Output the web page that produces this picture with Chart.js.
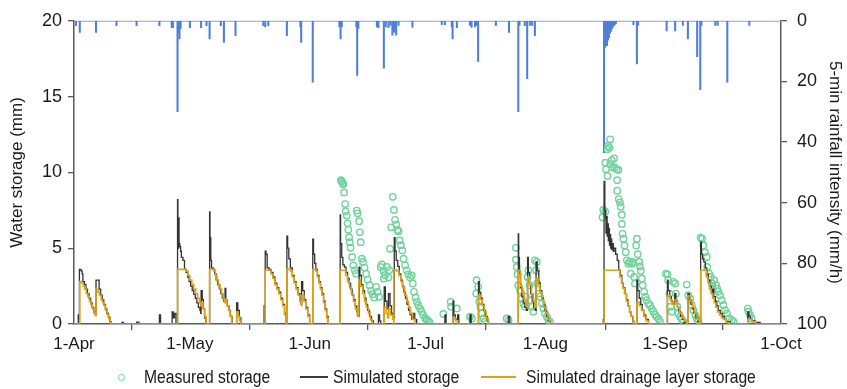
<!DOCTYPE html>
<html>
<head>
<meta charset="utf-8">
<script src="https://cdn.jsdelivr.net/npm/chart.js@4.4.1/dist/chart.umd.min.js"></script>
<style>
  html, body { margin: 0; padding: 0; background: #fff; }
  #wrap { position: relative; width: 847px; height: 389px; }
  #legend { position: absolute; left: 0; top: 366px; width: 847px; height: 22px;
            font: 18px 'Liberation Sans', Arial, sans-serif; color: #1a1a1a; }
  .item { position: absolute; top: 0; line-height: 22px; white-space: nowrap;
          transform: scaleX(0.87); transform-origin: 0 50%; }
  .dot { position: absolute; top: 8px; width: 5px; height: 5px; border: 1.3px solid #6fd39b; border-radius: 50%; }
  .ln { position: absolute; top: 10px; height: 2px; }
</style>
</head>
<body>
<div id="wrap">
  <canvas id="chart" width="847" height="389"></canvas>
  <div id="legend">
    <span class="dot" style="left:118px"></span>
    <span class="item" style="left:144px">Measured storage</span>
    <span class="ln" style="left:300px;width:28px;background:#3b3b3b;height:1.5px"></span>
    <span class="item" style="left:333px">Simulated storage</span>
    <span class="ln" style="left:481px;width:35px;background:#d9a31c"></span>
    <span class="item" style="left:526px">Simulated drainage layer storage</span>
  </div>
</div>
<script>
// x axis = days since 1 April
const monthDays = [0, 30, 61, 91, 122, 153, 183];
const monthLabels = ['1-Apr', '1-May', '1-Jun', '1-Jul', '1-Aug', '1-Sep', '1-Oct'];
const storageTicks = [0, 5, 10, 15, 20];
const rainTicks = [0, 20, 40, 60, 80, 100];

// 5-min rainfall intensity (mm/h)
const rainDay = [0.5, 1.5, 5.7, 11.0, 16.2, 22.1, 25.3, 25.6, 26.8, 27.0, 27.3, 27.6, 30.0, 32.9, 34.3, 35.1, 38.0, 38.8, 41.8,
  49.0, 49.5, 50.3, 55.1, 58.6, 58.8, 61.8, 68.7, 69.0, 69.3, 73.1, 73.3, 73.6, 78.4, 78.8, 80.2, 80.7, 81.4, 81.9, 82.4, 82.6,
  82.9, 83.1, 83.4, 84.0, 87.6, 95.2, 96.0, 97.8, 98.0, 99.1, 102.5, 102.9, 103.8, 104.2, 104.6, 109.2, 112.6, 115.0, 115.3,
  116.7, 117.3, 118.0, 118.6, 119.3, 137.2, 137.45, 137.7, 137.95, 138.2, 138.45, 138.7, 138.95, 139.2, 139.45, 139.7,
  139.95, 140.3, 144.8, 145.7, 146.0, 153.4, 155.6, 157.6, 158.9, 161.3, 162.1, 162.4, 166.0, 166.6, 169.1, 174.8];
const rainRate = [1.6, 3.8, 3.8, 1.6, 1.6, 1.6, 2.3, 2.3, 30, 4.0, 6.0, 2.5, 2.3, 2.3, 1.6, 6.0, 1.6, 7.1, 4.9,
  1.6, 2.0, 1.6, 4.9, 2.0, 7.1, 20.2, 2.0, 6.0, 2.0, 2.0, 18.0, 2.5, 2.0, 2.3, 15.6, 2.0, 2.3, 1.5, 4.7, 3.0,
  3.8, 2.5, 4.7, 1.5, 2.2, 1.3, 1.3, 2.0, 6.0, 2.3, 1.5, 2.2, 2.0, 1.5, 13.4, 1.6, 3.8, 30, 1.5,
  1.6, 19.1, 1.5, 1.5, 4.9, 43.5, 8.8, 7.6, 8.2, 6.4, 5.6, 4.2, 3.6, 2.8, 2.2, 1.6,
  1.3, 0.9, 1.3, 14.2, 1.5, 3.3, 3.3, 1.5, 6.0, 11.8, 22.7, 1.5, 1.5, 1.5, 20.2, 1.5];

// measured storage (mm): [day, value]
const measuredStorage = [
  [69.1, 9.49], [69.3, 9.4], [69.6, 9.3], [69.7, 9.22], [69.9, 8.68], [70.2, 7.91], [70.3, 7.43], [70.6, 7.15], [70.8, 6.64],
  [71.0, 6.21], [71.2, 5.73], [71.4, 5.4], [71.6, 5.03], [72.0, 4.42], [72.3, 3.87], [72.7, 3.54], [73.0, 3.32],
  [73.2, 7.48], [73.4, 7.3], [73.8, 6.78], [74.0, 6.05], [74.2, 5.4], [74.5, 4.31], [74.8, 4.09], [75.2, 3.72], [75.6, 3.32],
  [76.0, 2.93], [76.5, 2.56], [76.9, 2.19], [77.3, 1.97], [77.7, 1.75], [78.2, 2.45], [78.6, 2.12], [79.0, 1.79], [79.4, 3.76],
  [79.7, 3.93], [80.1, 3.5], [80.2, 3.0], [80.5, 3.24], [81.0, 3.76], [81.4, 3.06], [81.6, 3.54], [81.8, 4.96], [82.1, 6.38],
  [82.5, 8.39], [82.8, 7.52], [83.1, 6.87], [83.4, 6.56], [83.7, 6.2], [84.0, 6.12], [84.3, 5.51], [84.6, 5.2], [85.0, 4.85],
  [85.3, 4.31], [85.7, 3.87], [86.1, 3.54], [86.5, 3.28], [87.0, 3.06], [87.4, 3.2], [87.7, 2.67], [88.0, 2.12], [88.4, 1.75],
  [88.7, 1.46], [89.1, 1.24], [89.6, 1.02], [90.0, 0.81], [90.4, 0.59], [90.9, 0.37], [91.3, 0.3], [91.7, 0.2], [92.0, 0.12],
  [95.6, 0.66], [97.5, 1.46], [97.6, 1.14], [99.1, 1.03], [102.5, 0.48], [103.0, 0.37], [104.1, 2.01], [104.2, 2.89],
  [104.6, 2.45], [104.9, 1.47], [105.2, 1.14], [105.5, 0.7], [106.0, 0.37], [106.4, 0.15], [112.0, 0.37], [112.5, 0.26],
  [114.4, 5.03], [114.4, 4.24], [114.6, 3.76], [114.8, 3.28], [115.0, 2.56], [115.5, 2.19], [115.9, 1.68], [116.3, 1.35],
  [116.7, 1.14], [117.0, 1.79], [117.4, 3.1], [117.6, 3.54], [117.9, 2.56], [118.2, 1.57], [118.6, 1.14], [118.9, 0.81],
  [119.3, 4.2], [119.6, 3.54], [119.8, 4.09], [119.9, 2.67], [120.3, 2.01], [120.6, 1.79], [121.1, 1.35], [121.5, 1.03],
  [121.9, 0.7], [122.4, 0.48], [122.8, 0.26], [123.2, 0.15],
  [136.8, 7.04], [137.0, 7.52], [137.5, 7.43], [137.5, 10.64], [137.7, 10.2], [138.1, 9.77], [138.1, 11.52], [138.3, 11.74],
  [138.6, 11.63], [138.8, 12.18], [138.8, 10.54], [139.2, 10.8], [139.4, 10.33], [139.8, 10.93], [140.0, 10.33], [140.5, 10.2],
  [140.9, 10.16], [140.6, 9.49], [140.6, 8.79], [141.0, 8.24], [141.3, 8.02], [141.5, 7.74], [141.8, 7.21], [141.8, 6.6],
  [142.0, 5.95], [142.2, 5.63], [142.5, 5.18], [142.8, 4.74], [143.1, 4.2], [143.5, 3.98], [143.8, 4.09], [144.1, 3.32],
  [144.4, 3.98], [144.6, 4.09], [145.0, 3.1], [145.2, 2.67], [145.5, 5.18], [145.7, 5.63], [145.9, 4.6], [146.3, 4.09],
  [146.5, 3.8], [146.7, 3.5], [147.0, 3.0], [147.2, 2.56], [147.6, 2.12], [147.9, 1.79], [148.2, 1.57], [148.7, 1.35],
  [149.1, 1.22], [149.5, 1.02], [150.0, 0.81], [150.4, 0.61], [150.8, 0.48], [151.3, 0.33], [151.7, 0.15],
  [153.2, 3.32], [153.6, 3.28], [153.8, 2.89], [154.1, 2.01], [154.4, 1.14], [154.7, 0.81], [155.1, 2.78], [155.6, 2.67],
  [155.8, 2.01], [156.2, 1.14], [156.4, 0.7], [156.9, 0.48], [157.3, 0.31], [157.7, 0.15], [158.6, 2.6], [159.0, 1.9],
  [159.5, 1.68], [159.9, 1.24], [160.3, 0.92], [160.8, 0.59], [161.2, 0.37], [161.6, 0.26], [162.2, 5.69], [162.6, 5.63],
  [162.9, 5.18], [163.3, 4.74], [163.8, 4.42], [163.9, 3.76], [164.4, 3.32], [164.8, 3.1], [165.1, 2.67], [165.3, 2.45],
  [165.7, 2.89], [166.2, 2.56], [166.5, 2.34], [166.8, 2.12], [167.2, 1.9], [167.7, 1.57], [168.1, 1.24], [168.5, 0.92],
  [169.0, 0.7], [169.6, 0.37], [170.3, 0.26], [170.7, 0.15], [174.4, 1.02], [174.6, 0.81], [175.0, 0.59], [175.4, 0.37]
];

// simulated storage (mm): [day, value]
const simulatedStorage = [
  [0, 0], [1.0, 0], [1.1, 0.6], [1.3, 0.3], [1.4, 3.6], [1.8, 3.5], [2.1, 3.3], [2.3, 2.8], [2.7, 2.6], [3.1, 2.3], [3.5, 2.0],
  [3.9, 1.7], [4.3, 1.4], [4.7, 1.1], [5.1, 0.8], [5.5, 0.6], [5.7, 2.9], [6.2, 2.9], [6.5, 2.3], [6.9, 1.9], [7.3, 1.6],
  [7.7, 1.3], [8.1, 1.0], [8.5, 0.7], [8.9, 0.45], [9.3, 0.15], [9.6, 0],
  [12.3, 0], [12.4, 0.1], [12.8, 0], [16.1, 0], [16.2, 0.12], [16.8, 0], [22.0, 0], [22.1, 0.6], [22.4, 0], [25.3, 0],
  [25.4, 0.8], [25.7, 0.4], [26.0, 0.7], [26.4, 0], [26.7, 0], [26.8, 8.2], [26.9, 5.0], [27.1, 7.0], [27.2, 5.3], [27.4, 5.1],
  [27.6, 4.8], [27.8, 4.4], [28.2, 4.2], [28.6, 3.6], [29.0, 3.4], [29.4, 3.1], [29.8, 2.8], [30.2, 2.5], [30.6, 2.2],
  [31.0, 1.95], [31.4, 1.7], [31.8, 1.4], [32.2, 1.1], [32.6, 0.9], [32.8, 0.7], [32.9, 2.2], [33.2, 1.6], [33.5, 1.0],
  [33.8, 0.4], [34.1, 0], [35.0, 0], [35.1, 7.4], [35.2, 5.7], [35.4, 4.2], [35.6, 3.7], [36.0, 3.6], [36.4, 3.3], [36.8, 2.9],
  [37.2, 2.6], [37.6, 2.3], [38.0, 2.0], [38.4, 1.7], [38.8, 1.5], [39.1, 2.35], [39.3, 1.6], [39.7, 1.2], [40.1, 0.9],
  [40.5, 0.5], [40.9, 0], [42.0, 0], [42.1, 1.4], [42.4, 0.9], [42.8, 0.4], [43.2, 0],
  [49.0, 0], [49.2, 1.2], [49.5, 4.8], [49.7, 4.6], [50.0, 3.7], [50.5, 3.6], [51.0, 3.4], [51.5, 3.1], [52.0, 2.7], [52.5, 2.4],
  [53.0, 2.1], [53.5, 1.7], [54.0, 1.3], [54.5, 0.7], [54.9, 0], [55.0, 0], [55.1, 5.8], [55.3, 5.0], [55.6, 4.3], [56.0, 3.7],
  [56.5, 3.2], [57.0, 2.8], [57.5, 2.4], [58.0, 2.0], [58.5, 1.6], [58.8, 1.3], [58.9, 2.8], [59.2, 2.2], [59.6, 1.6],
  [60.0, 1.1], [60.5, 0.6], [61.0, 0], [61.7, 0], [61.8, 5.6], [62.0, 4.6], [62.3, 4.0], [62.6, 3.6], [63.0, 3.2], [63.4, 2.8],
  [63.8, 2.4], [64.2, 2.0], [64.6, 1.5], [65.0, 1.0], [65.4, 0.5], [65.8, 0],
  [68.8, 0], [68.9, 7.2], [69.0, 5.3], [69.3, 4.4], [69.6, 3.9], [70.0, 3.75], [70.4, 3.4], [70.8, 3.0], [71.2, 2.7],
  [71.6, 2.3], [72.0, 1.9], [72.4, 1.6], [72.8, 1.2], [73.2, 0.8], [73.5, 0.5], [73.8, 3.75], [74.0, 3.2], [74.4, 2.6],
  [74.8, 2.2], [75.2, 1.7], [75.6, 1.3], [76.0, 0.9], [76.5, 0.5], [77.0, 0.2], [77.5, 0], [78.7, 0], [78.8, 0.6], [79.1, 0.2],
  [79.4, 0], [80.2, 0], [80.3, 2.45], [80.6, 1.5], [81.0, 1.0], [81.4, 2.0], [81.8, 1.2], [82.2, 0.7], [82.7, 0.4], [82.9, 5.7],
  [83.1, 4.8], [83.4, 4.2], [83.8, 3.8], [84.2, 3.3], [84.6, 2.9], [85.0, 2.5], [85.4, 2.1], [85.8, 1.7], [86.2, 1.3],
  [86.6, 0.9], [87.0, 0.6], [87.4, 0.3], [87.8, 0.7], [88.2, 0.3], [88.7, 0],
  [95.8, 0], [96.0, 0.6], [96.3, 0], [98.0, 0], [98.1, 1.5], [98.3, 0.6], [98.7, 0.3], [99.3, 0.6], [99.6, 0], [102.4, 0],
  [102.5, 0.6], [102.8, 0], [104.6, 0], [104.7, 2.8], [104.9, 2.1], [105.3, 1.7], [105.7, 1.3], [106.1, 0.9], [106.5, 0.5],
  [107.0, 0.2], [107.3, 0], [112.3, 0], [112.4, 0.5], [112.8, 0],
  [114.9, 0], [115.0, 5.95], [115.1, 4.4], [115.3, 3.3], [115.6, 2.4], [115.9, 1.8], [116.3, 1.4], [116.7, 1.1], [117.1, 0.9],
  [117.4, 4.4], [117.6, 3.4], [117.9, 2.6], [118.2, 2.0], [118.6, 1.5], [119.0, 1.1], [119.4, 0.9], [119.6, 4.1], [119.9, 3.5],
  [120.3, 2.7], [120.7, 2.2], [121.1, 1.7], [121.5, 1.3], [121.9, 0.9], [122.3, 0.5], [122.7, 0.2], [123.2, 0],
  [136.9, 0], [137.0, 0.3], [137.2, 9.4], [137.4, 7.5], [137.6, 7.0], [137.7, 6.0], [137.8, 7.1], [138.0, 5.8], [138.1, 6.6],
  [138.3, 5.5], [138.4, 6.3], [138.6, 5.2], [138.7, 5.9], [138.9, 5.0], [139.0, 5.6], [139.2, 4.9], [139.4, 5.3], [139.6, 4.8],
  [139.8, 5.0], [140.2, 4.6], [140.6, 4.2], [141.0, 3.55], [141.4, 3.2], [141.8, 2.7], [142.2, 2.4], [142.6, 2.0], [143.0, 1.6],
  [143.4, 1.2], [143.8, 0.8], [144.2, 0.5], [144.6, 0.2], [144.9, 0], [145.6, 0], [145.7, 2.9], [145.9, 2.2], [146.3, 1.7],
  [146.7, 1.3], [147.1, 0.9], [147.5, 0.6], [148.0, 0.3], [148.7, 0],
  [153.5, 0], [153.6, 2.9], [153.8, 2.2], [154.2, 1.8], [154.6, 1.5], [155.0, 1.3], [155.5, 2.0], [155.8, 1.5], [156.2, 1.1],
  [156.6, 0.8], [157.0, 0.5], [157.5, 0.3], [158.0, 0.1], [158.6, 0], [158.9, 2.0], [159.3, 1.6], [159.7, 1.3], [160.1, 1.0],
  [160.5, 0.7], [161.0, 0.4], [161.5, 0.15], [162.0, 0], [162.2, 5.4], [162.4, 4.6], [162.7, 4.3], [163.0, 4.1], [163.4, 3.7],
  [163.8, 3.3], [164.2, 2.9], [164.6, 2.5], [165.0, 2.1], [165.3, 2.3], [165.6, 1.8], [166.0, 1.5], [166.4, 1.2], [166.8, 0.9],
  [167.3, 0.7], [167.8, 0.5], [168.3, 0.3], [168.9, 0.15], [169.8, 0], [174.3, 0], [174.4, 0.8], [174.7, 0.5], [175.1, 0.3],
  [175.6, 0.2], [176.3, 0.1], [177.6, 0], [183, 0]
];

// simulated drainage layer storage (mm): [day, value]
const drainageStorage = [
  [0, 0], [1.5, 0], [1.5, 2.8], [2.0, 2.7], [2.4, 2.5], [2.8, 2.3], [3.2, 2.0], [3.6, 1.8], [4.0, 1.5], [4.4, 1.25], [4.8, 1.0],
  [5.2, 0.7], [5.6, 0.55], [5.7, 2.3], [6.2, 2.1], [6.6, 1.9], [7.0, 1.6], [7.4, 1.4], [7.8, 1.2], [8.2, 0.9], [8.6, 0.6],
  [9.0, 0.35], [9.4, 0.1], [9.6, 0],
  [26.8, 0], [26.8, 3.6], [29.0, 3.5], [29.5, 3.2], [30.0, 2.9], [30.5, 2.6], [31.0, 2.3], [31.5, 2.0], [32.0, 1.7], [32.5, 1.4],
  [32.9, 1.2], [33.0, 1.4], [33.4, 1.0], [33.8, 0.5], [34.2, 0],
  [35.1, 0], [35.1, 3.6], [36.2, 3.5], [36.6, 3.2], [37.0, 2.9], [37.4, 2.6], [37.8, 2.3], [38.2, 2.0], [38.6, 1.7], [39.0, 1.4],
  [39.2, 1.6], [39.6, 1.2], [40.0, 0.9], [40.4, 0.5], [40.8, 0], [42.0, 0], [42.1, 0.8], [42.5, 0.5], [42.9, 0.2], [43.2, 0],
  [49.5, 0], [49.5, 3.55], [50.5, 3.55], [51.0, 3.3], [51.5, 3.0], [52.0, 2.6], [52.5, 2.3], [53.0, 2.0], [53.5, 1.6],
  [54.0, 1.2], [54.5, 0.6], [54.9, 0],
  [55.1, 0], [55.1, 3.6], [56.0, 3.5], [56.5, 3.1], [57.0, 2.7], [57.5, 2.3], [58.0, 1.9], [58.5, 1.5], [58.9, 1.2], [59.0, 1.9],
  [59.5, 1.5], [60.0, 1.0], [60.5, 0.5], [61.0, 0],
  [61.8, 0], [61.8, 3.6], [62.6, 3.5], [63.0, 3.1], [63.4, 2.7], [63.8, 2.3], [64.2, 1.9], [64.6, 1.4], [65.0, 0.9], [65.4, 0.4],
  [65.8, 0],
  [68.9, 0], [68.9, 3.55], [69.8, 3.55], [70.3, 3.2], [70.8, 2.8], [71.3, 2.4], [71.8, 2.0], [72.3, 1.5], [72.8, 1.0],
  [73.3, 0.6], [73.6, 0.5], [73.7, 2.9], [74.2, 2.5], [74.7, 2.0], [75.2, 1.5], [75.7, 1.1], [76.2, 0.7], [76.7, 0.3], [77.2, 0],
  [80.2, 0], [80.3, 1.1], [80.8, 0.7], [81.2, 0.4], [81.4, 1.0], [81.9, 0.6], [82.5, 0.3], [82.8, 0], [82.8, 3.55], [83.6, 3.5],
  [84.1, 3.2], [84.6, 2.8], [85.1, 2.4], [85.6, 1.9], [86.1, 1.5], [86.6, 1.1], [87.1, 0.7], [87.6, 0.3], [88.3, 0],
  [98.0, 0], [98.1, 0.4], [98.8, 0.2], [99.3, 0], [104.6, 0], [104.7, 1.9], [105.2, 1.6], [105.7, 1.2], [106.2, 0.8],
  [106.7, 0.4], [107.2, 0],
  [115.0, 0], [115.0, 3.55], [115.3, 3.55], [115.5, 2.5], [116.0, 2.1], [116.5, 1.6], [117.0, 1.2], [117.4, 1.0], [117.4, 3.1],
  [117.9, 2.6], [118.4, 2.0], [118.9, 1.5], [119.3, 1.1], [119.6, 3.0], [120.1, 2.6], [120.6, 2.1], [121.1, 1.6], [121.6, 1.1],
  [122.1, 0.7], [122.6, 0.3], [123.1, 0],
  [137.2, 0], [137.2, 3.55], [140.9, 3.55], [141.3, 3.1], [141.7, 2.7], [142.1, 2.35], [142.5, 2.0], [143.0, 1.5], [143.4, 1.2],
  [143.8, 0.8], [144.2, 0.5], [144.7, 0.1], [144.9, 0], [145.7, 0], [145.7, 1.45], [146.3, 1.2], [146.9, 0.9], [147.5, 0.5],
  [148.1, 0.2], [148.7, 0],
  [153.6, 0], [153.6, 1.9], [154.3, 1.6], [154.8, 1.3], [155.6, 1.6], [156.2, 1.1], [156.8, 0.7], [157.4, 0.4], [158.0, 0.2],
  [158.6, 0], [158.9, 0], [158.9, 1.85], [159.5, 1.5], [160.1, 1.1], [160.7, 0.7], [161.3, 0.3], [161.9, 0],
  [162.2, 0], [162.2, 3.55], [163.3, 3.55], [163.7, 3.1], [164.1, 2.7], [164.5, 2.3], [164.9, 2.0], [165.3, 1.7], [165.7, 1.4],
  [166.1, 1.1], [166.6, 0.8], [167.1, 0.6], [167.6, 0.4], [168.1, 0.3], [168.8, 0.1], [169.6, 0],
  [174.4, 0], [174.4, 0.3], [175.5, 0.15], [176.5, 0], [183, 0]
];

const FONT = "'Liberation Sans', Arial, sans-serif";
const AXIS = '#595959';
const TEXT = '#1a1a1a';

const toXY = arr => arr.map(p => ({x: p[0], y: p[1]}));

Chart.defaults.font.family = FONT;
Chart.defaults.font.size = 17;
Chart.defaults.color = TEXT;

new Chart(document.getElementById('chart'), {
  type: 'bar',
  data: {
    datasets: [
      { type: 'line', label: 'Simulated drainage layer storage', data: toXY(drainageStorage), yAxisID: 'y',
        borderColor: '#d9a31c', borderWidth: 1.6, pointRadius: 0, stepped: true, order: 1 },
      { type: 'line', label: 'Simulated storage', data: toXY(simulatedStorage), yAxisID: 'y',
        borderColor: '#333333', borderWidth: 1.3, pointRadius: 0, stepped: true, order: 2 },
      { type: 'scatter', label: 'Measured storage', data: toXY(measuredStorage), yAxisID: 'y',
        pointStyle: 'circle', pointRadius: 3.2, borderWidth: 1.4, borderColor: '#6fd39b',
        backgroundColor: 'rgba(255,255,255,0)', order: 3 },
      { type: 'bar', label: 'Rainfall', data: rainDay.map((d, i) => ({x: d, y: rainRate[i]})), yAxisID: 'y2',
        backgroundColor: '#4f7fd9', barThickness: 1.4, grouped: false, order: 4 },
      { type: 'line', label: 'Rainfall base', data: [{x: 0, y: 0}, {x: 183, y: 0}], yAxisID: 'y2',
        borderColor: '#7fa3e6', borderWidth: 2, pointRadius: 0, order: 5 }
    ]
  },
  options: {
    responsive: false,
    animation: false,
    layout: { padding: { top: 19, left: 0, right: 0, bottom: 33 } },
    plugins: { legend: { display: false }, tooltip: { enabled: false } },
    scales: {
      x: {
        type: 'linear', min: 0, max: 183, offset: false,
        afterBuildTicks: s => { s.ticks = monthDays.map(v => ({value: v})); },
        afterFit: s => { s.height = 32; },
        ticks: { padding: 4, color: TEXT, callback: v => monthLabels[monthDays.indexOf(v)] || '' },
        grid: { drawOnChartArea: false, drawTicks: true, tickLength: 6, color: AXIS, lineWidth: 1.3 },
        border: { color: AXIS, width: 1.5 }
      },
      y: {
        position: 'left', min: 0, max: 20,
        afterBuildTicks: s => { s.ticks = storageTicks.map(v => ({value: v})); },
        afterFit: s => { s.width = 74; },
        ticks: { padding: 6, color: TEXT, font: { size: 18 } },
        grid: { drawOnChartArea: false, drawTicks: true, tickLength: 6, color: AXIS, lineWidth: 1.3 },
        border: { color: AXIS, width: 1.5 },
        title: { display: true, text: 'Water storage (mm)', color: TEXT, font: { size: 17 }, padding: { top: 7, bottom: 0 } }
      },
      y2: {
        position: 'right', min: 0, max: 100, reverse: true,
        afterBuildTicks: s => { s.ticks = rainTicks.map(v => ({value: v})); },
        afterFit: s => { s.width = 66; },
        ticks: { padding: 10, color: TEXT, font: { size: 18 } },
        grid: { drawOnChartArea: false, drawTicks: true, tickLength: 6, color: AXIS, lineWidth: 1.3 },
        border: { color: AXIS, width: 1.5 },
        title: { display: true, text: '5-min rainfall intensity (mm/h)', color: TEXT, font: { size: 17 }, padding: { top: 2, bottom: 0 } }
      }
    }
  }
});
</script>
</body>
</html>
